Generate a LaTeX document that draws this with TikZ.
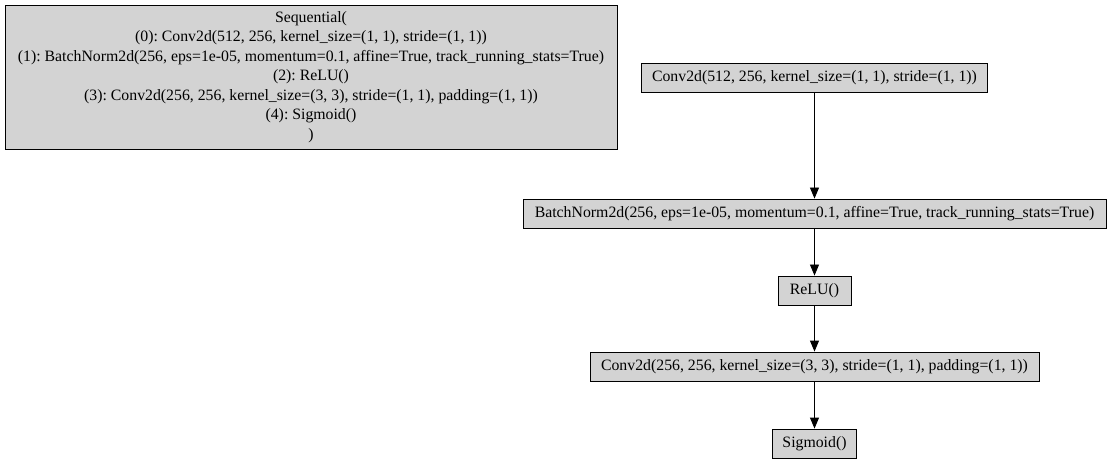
\documentclass[tikz,border=0pt]{standalone}
\usepackage{fontspec}
\setmainfont{Liberation Serif}
\usepackage{tikz}
\usetikzlibrary{arrows.meta}

\definecolor{boxgray}{HTML}{D3D3D3}
\tikzset{
  layer/.style={draw=black, fill=boxgray, line width=0.9pt, inner sep=0pt,
    minimum height=29pt, font=\frenchspacing\fontsize{15.8}{19.5}\selectfont},
  flow/.style={-{Triangle[length=11pt,width=9pt]}, line width=0.9pt}
}

\begin{document}
\begin{tikzpicture}[x=1pt,y=-1pt]
    \useasboundingbox (0,0) rectangle (1109,465);
    \node[layer, minimum width=612pt, minimum height=144pt, align=center] (s) at (311,77)
      {Sequential(\\
       (0): Conv2d(512, 256, kernel\_size=(1, 1), stride=(1, 1))\\
       (1): BatchNorm2d(256, eps=1e-05, momentum=0.1, affine=True, track\_running\_stats=True)\\
       (2): ReLU()\\
       (3): Conv2d(256, 256, kernel\_size=(3, 3), stride=(1, 1), padding=(1, 1))\\
       (4): Sigmoid()\\
       )};
    \node[layer, minimum width=346pt] (a) at (814.5,77.5) {Conv2d(512, 256, kernel\_size=(1, 1), stride=(1, 1))};
    \node[layer, minimum width=583pt] (b) at (814.5,213.5) {BatchNorm2d(256, eps=1e-05, momentum=0.1, affine=True, track\_running\_stats=True)};
    \node[layer, minimum width=73pt] (c) at (814.5,290.5) {ReLU()};
    \node[layer, minimum width=449pt] (d) at (814.5,366.5) {Conv2d(256, 256, kernel\_size=(3, 3), stride=(1, 1), padding=(1, 1))};
    \node[layer, minimum width=84pt] (e) at (814.5,443.5) {Sigmoid()};
    \draw[flow] (a) -- (b);
    \draw[flow] (b) -- (c);
    \draw[flow] (c) -- (d);
    \draw[flow] (d) -- (e);
  \end{tikzpicture}
\end{document}
